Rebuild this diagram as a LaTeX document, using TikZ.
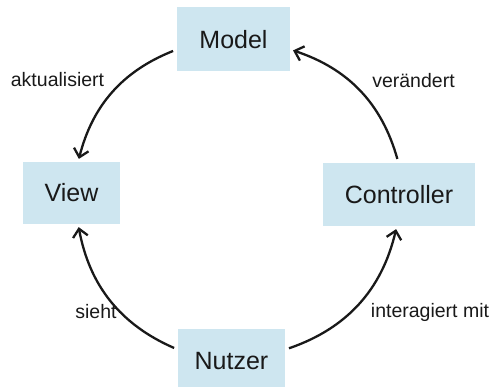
\documentclass[tikz,border=0pt]{standalone}
\usepackage{fontspec}
\setmainfont{Liberation Sans}
\usetikzlibrary{arrows.meta}
\definecolor{boxblue}{RGB}{206,230,240}
\definecolor{ink}{RGB}{25,25,25}
\tikzset{
  mvcbox/.style={fill=boxblue, draw=none, inner sep=0pt, text=ink,
                 font=\fontsize{25}{28}\selectfont},
  flowlabel/.style={text=ink, inner sep=0pt, font=\fontsize{19.5}{22}\selectfont},
  flow/.style={line width=2.3pt, ink,
               -{Straight Barb[length=8pt,width=15pt,line width=2.3pt]},
               shorten <=4pt, shorten >=3pt},
}
\begin{document}
\begin{tikzpicture}[x=1pt,y=1pt]
  \useasboundingbox (0,0) rectangle (496,387);

  % the four parts of the cycle
  \node[mvcbox, minimum width=113pt, minimum height=64pt] (model)      at (233.5,347.5) {Model};
  \node[mvcbox, minimum width=97pt,  minimum height=62pt] (view)       at (71.5,194)    {View};
  \node[mvcbox, minimum width=152pt, minimum height=63pt] (controller) at (399,192.5)   {Controller};
  \node[mvcbox, minimum width=107pt, minimum height=64pt] (nutzer)     at (231.5,26)    {Nutzer};

  % curved connectors around the circle
  \draw[flow] (model.190)   to[bend right=27] (view.78);
  \draw[flow] (controller.91) to[bend right=28] (model.350);
  \draw[flow] (nutzer.168)  to[bend left=28]  (view.282);
  \draw[flow] (nutzer.12)   to[bend right=29] (controller.266);

  % connector labels
  \node[flowlabel] (lblakt)  at (57.5,307)  {aktualisiert};
  \node[flowlabel] (lblver)  at (413.5,306) {verändert};
  \node[flowlabel] (lblsieht) at (96,75)    {sieht};
  \node[flowlabel] (lblint)  at (430,75)    {interagiert mit};
\end{tikzpicture}
\end{document}
